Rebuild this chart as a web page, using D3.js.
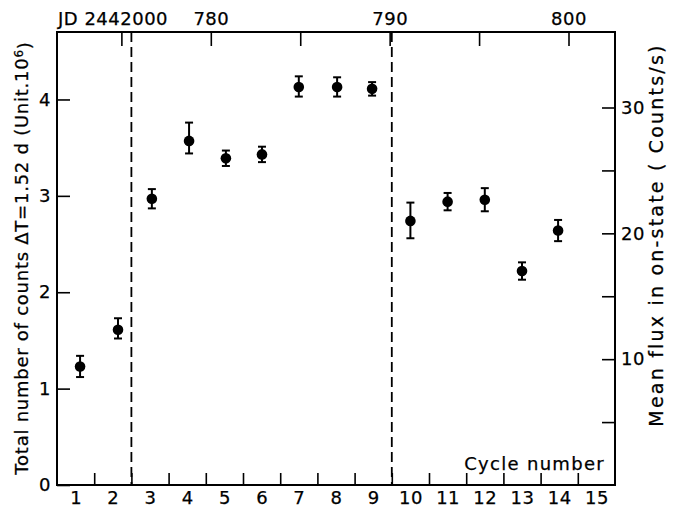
<!DOCTYPE html>
<html>
<head>
<meta charset="utf-8">
<script src="https://cdnjs.cloudflare.com/ajax/libs/d3/7.8.5/d3.min.js"></script>
<style>
  body { margin: 0; background: #fff; }
  svg text { font-family: "DejaVu Sans", sans-serif; fill: #000; stroke: #000; stroke-width: 0.25px; letter-spacing: 0.5px; }
  .axis path { display: none; }
  .axis line { stroke: #000; stroke-width: 1.6; }
</style>
</head>
<body>
<svg id="container1" width="678" height="508"></svg>
<script>
// cycle position of each point, total counts (10^6), error down / up
var cycles = [1.12, 2.14, 3.05, 4.05, 5.04, 6.01, 7.0, 8.03, 8.97, 10.0, 11.0, 12.0, 13.0, 13.97];
var counts = [1.23, 1.61, 2.97, 3.57, 3.39, 3.43, 4.13, 4.13, 4.11, 2.74, 2.94, 2.96, 2.22, 2.64];
var errLo = [0.11, 0.09, 0.10, 0.13, 0.08, 0.08, 0.10, 0.10, 0.07, 0.18, 0.09, 0.12, 0.09, 0.11];
var errHi = [0.11, 0.12, 0.10, 0.19, 0.08, 0.08, 0.11, 0.10, 0.07, 0.19, 0.09, 0.12, 0.09, 0.11];

var cycleLabels = d3.range(1, 16);
var cycleBounds = d3.range(1.5, 15, 1);
var dashedAt = [2.5, 9.5];

var leftTicks = [0, 1, 2, 3, 4];
var rightTicks = [5, 10, 15, 20, 25, 30];
var rightLabels = [10, 20, 30];
var jdTicks = [775, 780, 785, 790, 795, 800];
var jdLabels = [780, 790, 800];

var svg = d3.select("svg#container1"),
    margin = {top: 32, right: 63, bottom: 23, left: 57},
    width = +svg.attr("width") - margin.left - margin.right,
    height = +svg.attr("height") - margin.top - margin.bottom;

var g = svg.append("g")
  .attr("transform", "translate(" + margin.left + "," + margin.top + ")");

var x = d3.scaleLinear().domain([0.5, 15.5]).range([0, width]);
var y = d3.scaleLinear().domain([0, 4.7]).range([height, 0]);
var y2 = d3.scaleLinear().domain([0, 36.0]).range([height, 0]);
var xJD = d3.scaleLinear().domain([771.4, 802.6]).range([0, width]);

// frame
g.append("rect")
  .attr("width", width)
  .attr("height", height)
  .attr("fill", "none")
  .attr("stroke", "#000")
  .attr("stroke-width", 2);

// dashed separators
g.selectAll("line.sep")
  .data(dashedAt)
  .enter().append("line")
  .attr("class", "sep")
  .attr("x1", function(d) { return x(d); })
  .attr("x2", function(d) { return x(d); })
  .attr("y1", 0)
  .attr("y2", height)
  .attr("stroke", "#000")
  .attr("stroke-width", 1.8)
  .attr("stroke-dasharray", "10,5");

// left axis
g.append("g")
  .attr("class", "axis")
  .style("font-size", "18px")
  .call(d3.axisLeft(y).tickValues(leftTicks).tickSize(-13).tickSizeOuter(0).tickPadding(6).tickFormat(d3.format("d")));

// right axis
g.append("g")
  .attr("class", "axis")
  .attr("transform", "translate(" + width + ",0)")
  .style("font-size", "18px")
  .call(d3.axisRight(y2).tickValues(rightTicks).tickSize(-13).tickSizeOuter(0).tickPadding(6)
    .tickFormat(function(d) { return rightLabels.indexOf(d) >= 0 ? d : ""; }));

// bottom ticks at cycle boundaries
g.append("g")
  .attr("class", "axis")
  .attr("transform", "translate(0," + height + ")")
  .call(d3.axisBottom(x).tickValues(cycleBounds).tickSize(-12).tickSizeOuter(0).tickFormat(""));

// bottom cycle labels
g.append("g")
  .attr("class", "axis")
  .attr("transform", "translate(0," + height + ")")
  .style("font-size", "18px")
  .call(d3.axisBottom(x).tickValues(cycleLabels).tickSize(0).tickPadding(6).tickFormat(d3.format("d")));

// top JD axis
g.append("g")
  .attr("class", "axis")
  .style("font-size", "18px")
  .call(d3.axisTop(xJD).tickValues(jdTicks).tickSize(-14).tickSizeOuter(0).tickPadding(7)
    .tickFormat(function(d) { return jdLabels.indexOf(d) >= 0 ? d : ""; }));

g.append("text")
  .attr("x", 1)
  .attr("y", -7)
  .style("font-size", "18px")
  .text("JD 2442000");

g.append("text")
  .attr("x", width - 10)
  .attr("y", height - 15)
  .attr("text-anchor", "end")
  .style("font-size", "18px")
  .style("letter-spacing", "1.3px")
  .text("Cycle number");

// axis titles
var tl = svg.append("text")
  .attr("transform", "translate(28,258) rotate(-90)")
  .attr("text-anchor", "middle")
  .style("font-size", "18px")
  .style("letter-spacing", "0.75px");
tl.append("tspan").text("Total number of counts \u0394T=1.52 d (Unit.10");
tl.append("tspan").attr("dy", "-0.45em").style("font-size", "12px").text("6");
tl.append("tspan").attr("dy", "0.45em").text(")");

svg.append("text")
  .attr("transform", "translate(663,235) rotate(-90)")
  .attr("text-anchor", "middle")
  .style("font-size", "19px")
  .style("letter-spacing", "2.2px")
  .text("Mean flux in on-state ( Counts/s)");

// error bars and points
var pts = g.selectAll("g.pt")
  .data(cycles)
  .enter().append("g")
  .attr("class", "pt");

pts.append("line")
  .attr("x1", function(d) { return x(d); })
  .attr("x2", function(d) { return x(d); })
  .attr("y1", function(d, i) { return y(counts[i] + errHi[i]); })
  .attr("y2", function(d, i) { return y(counts[i] - errLo[i]); })
  .attr("stroke", "#000")
  .attr("stroke-width", 2);

pts.append("line")
  .attr("x1", function(d) { return x(d) - 4; })
  .attr("x2", function(d) { return x(d) + 4; })
  .attr("y1", function(d, i) { return y(counts[i] + errHi[i]); })
  .attr("y2", function(d, i) { return y(counts[i] + errHi[i]); })
  .attr("stroke", "#000")
  .attr("stroke-width", 2);

pts.append("line")
  .attr("x1", function(d) { return x(d) - 4; })
  .attr("x2", function(d) { return x(d) + 4; })
  .attr("y1", function(d, i) { return y(counts[i] - errLo[i]); })
  .attr("y2", function(d, i) { return y(counts[i] - errLo[i]); })
  .attr("stroke", "#000")
  .attr("stroke-width", 2);

pts.append("circle")
  .attr("cx", function(d) { return x(d); })
  .attr("cy", function(d, i) { return y(counts[i]); })
  .attr("r", 5.3)
  .attr("fill", "#000");
</script>
</body>
</html>
